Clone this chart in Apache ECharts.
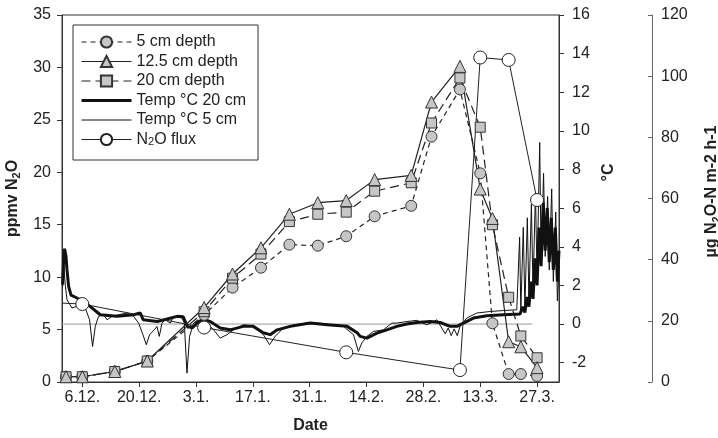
<!DOCTYPE html>
<html><head><meta charset="utf-8">
<script src="https://cdn.jsdelivr.net/npm/echarts@6/dist/echarts.min.js"></script>
<style>html,body{margin:0;padding:0;background:#fff}#c{width:718px;height:438px}</style>
</head><body><div id="c"></div>
<script>
// ---- data ----
const sampleDates = ['2003-12-02','2003-12-06','2003-12-14','2003-12-22','2004-01-05','2004-01-12','2004-01-19','2004-01-26','2004-02-02','2004-02-09','2004-02-16','2004-02-25','2004-03-01','2004-03-08','2004-03-13','2004-03-16','2004-03-20','2004-03-23','2004-03-27'];
const depth5  = [0.5, 0.5, 1.0, 2.0, 6.4, 9.0, 10.9, 13.1, 13.0, 13.9, 15.8, 16.8, 23.4, 27.9, 19.9, 5.6, 0.76, 0.76, 0.57];
const depth12 = [0.5, 0.5, 1.0, 2.0, 7.1, 10.3, 12.8, 16.0, 17.1, 17.3, 19.3, 19.7, 26.7, 30.1, 18.4, 15.6, 3.84, 3.36, 1.37];
const depth20 = [0.5, 0.5, 1.0, 2.0, 6.7, 9.9, 12.2, 15.3, 16.0, 16.2, 18.2, 19.0, 24.7, 29.0, 24.3, 15.0, 8.08, 4.39, 2.31];

const fluxDates  = ['2003-12-01','2003-12-06','2004-01-05','2004-02-09','2004-03-08','2004-03-13','2004-03-20','2004-03-27'];
const fluxValues = [25.8, 25.5, 17.8, 9.7, 3.9, 106.1, 105.3, 59.5];

// temperature: time in days since 1 Dec 2003
const temp20Days = [0.15,0.4,0.64,0.99,1.23,1.63,2.22,3.69,5.32,6.97,9.43,13.54,17.63,19.28,20.01,23.46,25.92,28.38,29.86,30.85,32.08,33.31,34.78,36.5,38.97,41.43,44.63,47.09,49.55,51.27,53.0,56.2,61.12,65.31,70.23,72.69,73.43,75.08,77.54,80.0,82.46,84.93,87.39,90.68,93.14,95.6,97.23,98.86,101.32,104.62,108.7,112.8,113.5,114.0,114.5,115.0,115.5,116.0,116.5,117.0,117.5,118.0,118.5,119.0,119.5,120.0,120.5,121.0,121.5,122.0,122.4];
const temp20 = [2.04,3.3,3.9,3.5,2.8,1.95,1.5,1.35,1.17,0.9,0.48,0.4,0.48,0.57,0.22,0.13,0.26,0.4,0.38,-0.12,-0.2,0.07,0.22,0.13,-0.2,-0.3,-0.12,-0.12,-0.45,-0.55,-0.3,-0.12,0.05,-0.04,-0.12,-0.45,-0.64,-0.73,-0.47,-0.3,-0.12,0.0,0.08,0.13,0.08,-0.12,-0.12,0.05,0.31,0.43,0.48,0.52,0.9,0.6,1.4,0.9,2.2,1.3,3.4,2.0,5.0,3.0,6.3,3.8,6.0,3.2,5.5,2.8,5.0,2.2,3.8];

const temp5Days = [0.15,0.45,0.82,1.23,2.46,4.08,5.73,6.79,7.53,8.2,9.0,10.24,11.08,12.31,13.93,15.99,17.63,18.86,19.94,20.76,21.57,22.73,23.39,23.96,24.63,25.44,26.68,27.49,29.55,30.12,30.78,31.42,32.41,34.05,35.7,37.34,38.97,40.62,42.24,44.7,47.16,49.62,51.1,52.5,54.55,57.01,61.12,65.23,69.32,71.78,73.0,73.83,75.08,76.72,79.18,81.23,82.46,84.93,87.39,89.86,91.09,92.32,94.37,95.11,95.85,96.59,97.33,98.07,99.69,102.15,105.42,108.7,112.0,112.3,112.7,113.0,113.6,114.0,114.6,115.0,115.6,116.0,116.6,117.0,117.65,118.0,118.6,119.0,119.6,120.0,120.6,121.0,121.6,122.0,122.4];
const temp5 = [1.9,3.0,2.0,1.26,0.83,0.95,0.83,0.22,-1.16,-0.12,0.4,0.48,0.22,0.4,0.48,0.57,0.4,0.05,-0.55,-1.07,-0.55,-0.3,-0.12,-0.64,0.05,0.22,0.05,0.4,0.31,0.05,-2.54,-0.64,0.05,0.22,0.05,-0.3,-0.73,-0.55,-0.3,-0.04,-0.1,-0.55,-1.07,-0.64,-0.2,-0.04,0.08,0.01,-0.12,-0.55,-1.42,-0.98,-0.64,-0.38,-0.3,0.05,0.05,0.13,0.19,-0.04,0.08,0.22,-0.5,-0.2,-0.6,-0.25,-0.6,-0.1,0.31,0.57,0.65,0.7,0.74,0.8,4.5,0.7,5.0,0.9,5.5,1.2,6.2,1.8,6.8,2.5,9.4,3.2,7.8,3.5,6.6,2.8,7.0,2.2,5.8,1.2,3.0];

const zeroLineDays = [0, 115.8];
const xTickDates = ['2003-12-06','2003-12-20','2004-01-03','2004-01-17','2004-01-31','2004-02-14','2004-02-28','2004-03-13','2004-03-27'];
const tempTicks = [-2,0,2,4,6,8,10,12,14,16];

// ---- helpers ----
const BASE = Date.UTC(2003, 11, 1);
const dayOf = s => (Date.parse(s + 'T00:00:00Z') - BASE) / 86400000;
const xTickDays = xTickDates.map(dayOf);
const fmtDay = v => { const d = new Date(BASE + Math.round(v) * 86400000); return d.getUTCDate() + '.' + (d.getUTCMonth() + 1) + '.'; };
const FONT = '"Liberation Sans", Arial, Helvetica, sans-serif';
const TXT = '#222';
const FS = 16;
const pair = (xs, ys) => xs.map((x, i) => [x, ys[i]]);
const gasX = sampleDates.map(dayOf);
const gasMarker = {color: '#c6c6c6', borderColor: '#333', borderWidth: 1};
const hiddenIcon = {color: 'rgba(0,0,0,0)', borderColor: 'rgba(0,0,0,0)', borderWidth: 0};

const chart = echarts.init(document.getElementById('c'), null, {renderer: 'canvas'});
const axisCommon = {
  axisLine: {show: true, lineStyle: {color: '#333', width: 1}},
  axisTick: {show: true, length: 5, lineStyle: {color: '#333'}},
  splitLine: {show: false},
  axisLabel: {fontFamily: FONT, fontSize: FS, color: TXT},
  nameTextStyle: {fontFamily: FONT, fontSize: FS, fontWeight: 'bold', color: TXT}
};
const subRich = {
  b: {fontFamily: FONT, fontSize: FS, fontWeight: 'bold', color: TXT, lineHeight: 20},
  s: {fontFamily: FONT, fontSize: 11, fontWeight: 'bold', color: TXT, lineHeight: 11, verticalAlign: 'bottom'}
};

chart.setOption({
  animation: false,
  backgroundColor: '#fff',
  textStyle: {fontFamily: FONT},
  grid: {left: 62, right: 159, top: 15, bottom: 56, outerBoundsMode: 'none', containLabel: false,
         show: true, borderColor: '#333', borderWidth: 1, backgroundColor: 'transparent'},
  legend: {
    orient: 'vertical', left: 73, top: 25,
    itemWidth: 50, itemHeight: 14, itemGap: 3.5,
    padding: [9, 12, 12.5, 7],
    borderColor: '#333', borderWidth: 1, backgroundColor: '#fff',
    selectedMode: false,
    data: [
      {name: '5 cm depth', lineStyle: {width: 1.2}},
      {name: '12.5 cm depth', lineStyle: {width: 1.2}},
      {name: '20 cm depth', lineStyle: {width: 1.2}},
      {name: 'Temp °C 20 cm', itemStyle: hiddenIcon, lineStyle: {width: 3}},
      {name: 'Temp °C 5 cm', itemStyle: hiddenIcon, lineStyle: {width: 1}},
      {name: 'N2O flux', lineStyle: {width: 1}}
    ],
    formatter: n => n === 'N2O flux' ? '{n|N}{s|2}{n|O flux}' : '{n|' + n + '}',
    textStyle: {
      rich: {
        n: {fontFamily: FONT, fontSize: FS, color: TXT, lineHeight: 16},
        s: {fontFamily: FONT, fontSize: 11, color: TXT, lineHeight: 9, verticalAlign: 'bottom'}
      }
    }
  },
  xAxis: Object.assign({}, axisCommon, {
    type: 'value', min: 0, max: 122.4,
    name: 'Date', nameLocation: 'middle', nameGap: 36,
    axisTick: {show: true, length: 5, lineStyle: {color: '#333'}, customValues: xTickDays},
    axisLabel: {fontFamily: FONT, fontSize: FS, color: TXT, margin: 8, customValues: xTickDays, formatter: fmtDay}
  }),
  yAxis: [
    Object.assign({}, axisCommon, {
      type: 'value', min: 0, max: 35, interval: 5, position: 'left',
      name: '{b|ppmv N}{s|2}{b|O}', nameLocation: 'middle', nameGap: 35,
      nameTextStyle: {rich: subRich},
      axisLabel: {fontFamily: FONT, fontSize: FS, color: TXT, margin: 11}
    }),
    Object.assign({}, axisCommon, {
      type: 'value', min: -3, max: 16, position: 'right', offset: 0,
      name: '°C', nameLocation: 'middle', nameGap: 30,
      nameTextStyle: {fontFamily: FONT, fontSize: FS, fontWeight: 'bold', color: TXT, padding: [0, 0, 0, 52]},
      axisTick: {show: true, length: 5, lineStyle: {color: '#333'}, customValues: tempTicks},
      axisLabel: {fontFamily: FONT, fontSize: FS, color: TXT, margin: 13, customValues: tempTicks}
    }),
    Object.assign({}, axisCommon, {
      type: 'value', min: 0, max: 120, interval: 20, position: 'right', offset: 93,
      name: '{b|µg N}{s|2}{b|O-N m-2 h-1}', nameLocation: 'middle', nameGap: 50,
      nameTextStyle: {rich: subRich, padding: [0, 0, 0, 14]},
      axisLine: {show: true, lineStyle: {color: '#666', width: 1}},
      axisTick: {show: true, inside: true, length: 4, lineStyle: {color: '#666'}},
      axisLabel: {fontFamily: FONT, fontSize: FS, color: TXT, margin: 9}
    })
  ],
  series: [
    {name: 'zero', type: 'line', xAxisIndex: 0, yAxisIndex: 1, data: zeroLineDays.map(d => [d, 0]),
     symbol: 'none', silent: true, lineStyle: {color: '#9a9a9a', width: 1}, z: 1},
    {name: 'Temp °C 5 cm', type: 'line', yAxisIndex: 1, data: pair(temp5Days, temp5),
     symbol: 'none', lineStyle: {color: '#111', width: 1}, itemStyle: {color: '#111'}, z: 2},
    {name: 'Temp °C 20 cm', type: 'line', yAxisIndex: 1, data: pair(temp20Days, temp20),
     symbol: 'none', lineStyle: {color: '#111', width: 3}, itemStyle: {color: '#111'}, z: 2},
    {name: 'N2O flux', type: 'line', yAxisIndex: 2,
     data: fluxDates.map((d, i) => i === 0 ? {value: [dayOf(d), fluxValues[i]], symbol: 'none'} : [dayOf(d), fluxValues[i]]),
     symbol: 'circle', symbolSize: 13, showAllSymbol: true,
     lineStyle: {color: '#222', width: 1}, itemStyle: {color: '#fff', borderColor: '#222', borderWidth: 1}, z: 3},
    {name: '5 cm depth', type: 'line', yAxisIndex: 0, data: pair(gasX, depth5),
     symbol: 'circle', symbolSize: 11, showAllSymbol: true,
     lineStyle: {color: '#222', width: 1.2, type: [5, 4]}, itemStyle: gasMarker, z: 4},
    {name: '20 cm depth', type: 'line', yAxisIndex: 0, data: pair(gasX, depth20),
     symbol: 'rect', symbolSize: 10, showAllSymbol: true,
     lineStyle: {color: '#222', width: 1.2, type: [9, 5]}, itemStyle: gasMarker, z: 4},
    {name: '12.5 cm depth', type: 'line', yAxisIndex: 0, data: pair(gasX, depth12),
     symbol: 'triangle', symbolSize: 12, showAllSymbol: true,
     lineStyle: {color: '#222', width: 1.2}, itemStyle: gasMarker, z: 4}
  ]
});
</script></body></html>
